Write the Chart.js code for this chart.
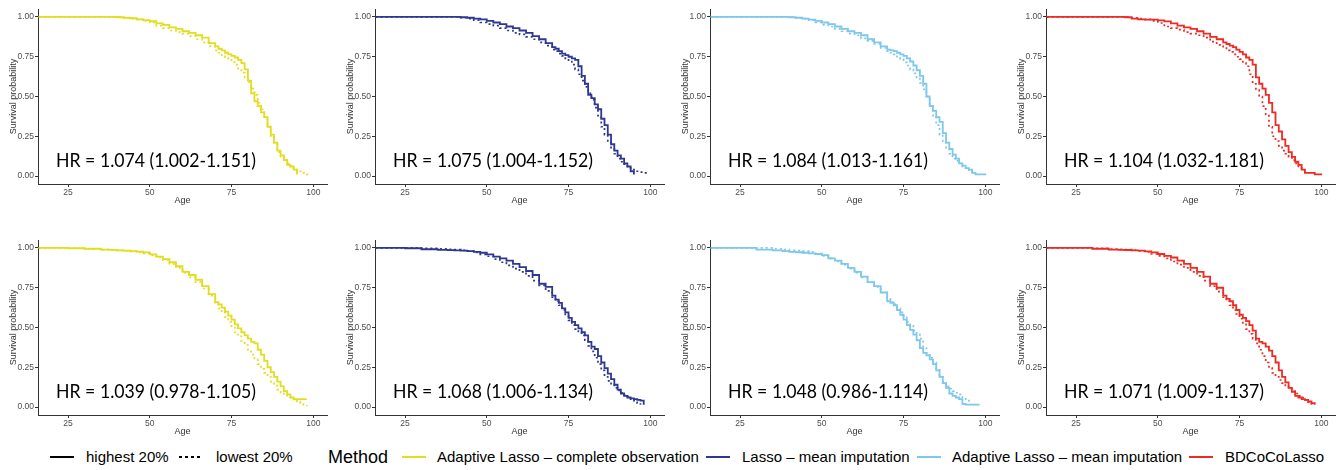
<!DOCTYPE html>
<html>
<head>
<meta charset="utf-8">
<script src="https://cdn.jsdelivr.net/npm/chart.js@4.4.0/dist/chart.umd.min.js"></script>
<style>
  html, body { margin: 0; padding: 0; background: #fff; }
  body { width: 1340px; height: 470px; position: relative; overflow: hidden;
         font-family: "Liberation Sans", Arial, sans-serif; }
  canvas.km { position: absolute; }
  .leg { position: absolute; top: 448px; height: 18px; line-height: 18px; font-size: 15px;
         color: #000; white-space: nowrap; }
  .leg.title { font-size: 18px; top: 446px; height: 22px; line-height: 22px; }
  .key { position: absolute; top: 452px; }
</style>
</head>
<body>
<div id="charts"></div>
<div id="legend"></div>
<script>
var ageGrid = [16, 25, 30, 35, 38, 40, 42, 44, 46, 48, 50, 52, 54, 56, 58, 60, 62, 64, 66, 68,
  70, 71, 72, 73, 74, 75, 76, 77, 78, 79, 80, 81, 82, 83, 84, 85, 86, 87, 88, 89,
  90, 91, 92, 93, 94, 95, 96, 97, 98, 99, 100];
var xTicks = [25, 50, 75, 100];
var yTicks = [0, 0.25, 0.5, 0.75, 1];

var methods = ['Adaptive Lasso \u2013 complete observation', 'Lasso \u2013 mean imputation',
  'Adaptive Lasso \u2013 mean imputation', 'BDCoCoLasso'];
var groups = ['highest 20%', 'lowest 20%'];

var hrTop = ['HR = 1.074 (1.002-1.151)', 'HR = 1.075 (1.004-1.152)',
  'HR = 1.084 (1.013-1.161)', 'HR = 1.104 (1.032-1.181)'];
var hrBottom = ['HR = 1.039 (0.978-1.105)', 'HR = 1.068 (1.006-1.134)',
  'HR = 1.048 (0.986-1.114)', 'HR = 1.071 (1.009-1.137)'];

// top row survival (highest / lowest 20%)
var alcoTopHigh = [1, 1, 1, 1, 1, 0.998, 0.995, 0.992, 0.985, 0.98,
  0.973, 0.96, 0.95, 0.935, 0.925, 0.91, 0.9, 0.885, 0.87, 0.835,
  0.815, 0.8, 0.79, 0.775, 0.765, 0.755, 0.745, 0.73, 0.71, 0.67,
  0.6, 0.52, 0.47, 0.44, 0.4, 0.37, 0.31, 0.26, 0.21, 0.16,
  0.13, 0.1, 0.07, 0.06, 0.04, 0.01, null, null, null, null, null];
var alcoTopLow = [1, 1, 1, 1, 1, 1, 0.995, 0.99, 0.985, 0.975,
  0.965, 0.945, 0.93, 0.915, 0.905, 0.895, 0.88, 0.86, 0.84, 0.815,
  0.79, 0.775, 0.76, 0.745, 0.73, 0.715, 0.7, 0.675, 0.65, 0.62,
  0.59, 0.55, 0.51, 0.46, 0.42, 0.37, 0.31, 0.25, 0.2, 0.15,
  0.12, 0.1, 0.08, 0.06, 0.05, 0.04, 0.03, 0.02, 0.01, 0.005, null];
var lassoTopHigh = [1, 1, 1, 1, 1, 1, 0.998, 0.995, 0.99, 0.985,
  0.975, 0.965, 0.955, 0.94, 0.93, 0.915, 0.9, 0.88, 0.86, 0.835,
  0.81, 0.8, 0.785, 0.77, 0.76, 0.75, 0.74, 0.73, 0.69, 0.63,
  0.58, 0.51, 0.49, 0.45, 0.42, 0.36, 0.32, 0.26, 0.2, 0.16,
  0.13, 0.11, 0.08, 0.06, 0.03, 0.01, null, null, null, null, null];
var lassoTopLow = [1, 1, 1, 1, 1, 1, 0.995, 0.99, 0.98, 0.965,
  0.955, 0.945, 0.93, 0.915, 0.9, 0.89, 0.875, 0.86, 0.84, 0.82,
  0.795, 0.785, 0.77, 0.755, 0.74, 0.72, 0.7, 0.67, 0.64, 0.6,
  0.56, 0.52, 0.48, 0.43, 0.38, 0.31, 0.26, 0.21, 0.17, 0.14,
  0.11, 0.09, 0.075, 0.06, 0.05, 0.04, 0.03, 0.025, 0.02, 0.01, null];
var almiTopHigh = [1, 1, 1, 1, 1, 0.998, 0.995, 0.99, 0.983, 0.975,
  0.965, 0.955, 0.94, 0.925, 0.91, 0.9, 0.885, 0.86, 0.84, 0.815,
  0.795, 0.79, 0.785, 0.775, 0.765, 0.755, 0.74, 0.72, 0.695, 0.665,
  0.63, 0.58, 0.5, 0.44, 0.41, 0.37, 0.34, 0.27, 0.21, 0.17,
  0.135, 0.11, 0.08, 0.065, 0.05, 0.04, 0.02, 0.01, 0.01, 0.01, 0.005];
var almiTopLow = [1, 1, 1, 1, 1, 1, 0.995, 0.99, 0.98, 0.965,
  0.95, 0.94, 0.925, 0.91, 0.895, 0.885, 0.865, 0.85, 0.83, 0.805,
  0.785, 0.775, 0.765, 0.75, 0.735, 0.715, 0.695, 0.67, 0.645, 0.62,
  0.585, 0.545, 0.5, 0.44, 0.38, 0.32, 0.26, 0.21, 0.17, 0.14,
  0.11, 0.095, 0.08, 0.06, 0.04, 0.03, 0.02, null, null, null, null];
var bdccTopHigh = [1, 1, 1, 1, 1, 0.998, 0.99, 0.985, 0.983, 0.983,
  0.978, 0.972, 0.96, 0.945, 0.935, 0.925, 0.91, 0.895, 0.875, 0.86,
  0.84, 0.83, 0.82, 0.81, 0.795, 0.78, 0.765, 0.745, 0.73, 0.7,
  0.62, 0.58, 0.55, 0.51, 0.46, 0.4, 0.32, 0.28, 0.23, 0.19,
  0.15, 0.12, 0.09, 0.07, 0.04, 0.02, 0.02, 0.02, 0.01, 0.01, 0.005];
var bdccTopLow = [1, 1, 1, 1, 1, 1, 0.995, 0.99, 0.985, 0.975,
  0.962, 0.94, 0.93, 0.92, 0.905, 0.895, 0.885, 0.87, 0.845, 0.825,
  0.805, 0.79, 0.78, 0.765, 0.75, 0.735, 0.71, 0.69, 0.64, 0.58,
  0.54, 0.5, 0.44, 0.38, 0.31, 0.25, 0.22, 0.19, 0.16, 0.14,
  0.12, 0.1, 0.08, 0.06, 0.04, null, null, null, null, null, null];

// bottom row survival
var alcoBotHigh = [1, 0.998, 0.995, 0.99, 0.988, 0.985, 0.983, 0.98, 0.977, 0.972,
  0.96, 0.945, 0.93, 0.91, 0.885, 0.85, 0.83, 0.8, 0.76, 0.71,
  0.66, 0.645, 0.625, 0.6, 0.575, 0.55, 0.52, 0.495, 0.47, 0.45,
  0.43, 0.41, 0.4, 0.36, 0.33, 0.29, 0.25, 0.22, 0.19, 0.16,
  0.13, 0.1, 0.08, 0.06, 0.05, 0.05, 0.05, 0.05, 0.05, null, null];
var alcoBotLow = [1, 0.998, 0.995, 0.99, 0.987, 0.985, 0.982, 0.978, 0.972, 0.965,
  0.955, 0.94, 0.925, 0.9, 0.875, 0.845, 0.815, 0.785, 0.745, 0.7,
  0.645, 0.62, 0.595, 0.565, 0.535, 0.5, 0.47, 0.445, 0.415, 0.39,
  0.36, 0.33, 0.3, 0.27, 0.24, 0.215, 0.19, 0.16, 0.135, 0.11,
  0.09, 0.075, 0.065, 0.055, 0.045, 0.035, 0.025, 0.015, 0.005, null, null];
var lassoBotHigh = [1, 0.998, 0.992, 0.988, 0.986, 0.985, 0.983, 0.98, 0.975, 0.97,
  0.96, 0.945, 0.935, 0.92, 0.9, 0.88, 0.855, 0.83, 0.775, 0.755,
  0.7, 0.675, 0.655, 0.62, 0.595, 0.56, 0.535, 0.515, 0.495, 0.47,
  0.45, 0.41, 0.38, 0.365, 0.32, 0.28, 0.245, 0.21, 0.175, 0.14,
  0.11, 0.085, 0.07, 0.06, 0.055, 0.05, 0.045, 0.04, 0.015, null, null];
var lassoBotLow = [1, 1, 0.998, 0.995, 0.992, 0.99, 0.985, 0.98, 0.972, 0.96,
  0.948, 0.93, 0.91, 0.89, 0.87, 0.85, 0.825, 0.795, 0.765, 0.73,
  0.69, 0.665, 0.64, 0.61, 0.575, 0.545, 0.515, 0.49, 0.47, 0.45,
  0.42, 0.385, 0.35, 0.31, 0.27, 0.23, 0.19, 0.165, 0.14, 0.12,
  0.105, 0.09, 0.075, 0.065, 0.05, 0.04, 0.025, 0.015, null, null, null];
var almiBotHigh = [1, 1, 0.99, 0.985, 0.98, 0.975, 0.973, 0.97, 0.966, 0.962,
  0.955, 0.935, 0.92, 0.9, 0.875, 0.85, 0.82, 0.785, 0.76, 0.72,
  0.665, 0.655, 0.64, 0.61, 0.58, 0.55, 0.515, 0.485, 0.455, 0.42,
  0.37, 0.34, 0.325, 0.3, 0.27, 0.23, 0.19, 0.15, 0.12, 0.085,
  0.07, 0.06, 0.05, 0.02, 0.015, 0.015, 0.015, 0.015, 0.01, null, null];
var almiBotLow = [1, 1, 1, 0.995, 0.99, 0.985, 0.983, 0.98, 0.975, 0.965,
  0.95, 0.935, 0.915, 0.895, 0.87, 0.845, 0.815, 0.785, 0.755, 0.72,
  0.68, 0.66, 0.645, 0.62, 0.595, 0.57, 0.535, 0.51, 0.48, 0.455,
  0.43, 0.38, 0.34, 0.31, 0.28, 0.24, 0.19, 0.16, 0.13, 0.115,
  0.1, 0.09, 0.08, 0.06, 0.05, 0.03, null, null, null, null, null];
var bdccBotHigh = [1, 1, 0.995, 0.99, 0.988, 0.987, 0.985, 0.983, 0.978, 0.972,
  0.962, 0.95, 0.94, 0.92, 0.9, 0.875, 0.85, 0.82, 0.775, 0.75,
  0.7, 0.68, 0.665, 0.64, 0.61, 0.58, 0.56, 0.54, 0.515, 0.48,
  0.43, 0.41, 0.4, 0.38, 0.355, 0.32, 0.28, 0.23, 0.19, 0.155,
  0.12, 0.095, 0.07, 0.06, 0.05, 0.045, 0.035, 0.025, 0.015, null, null];
var bdccBotLow = [1, 1, 0.997, 0.993, 0.991, 0.99, 0.986, 0.982, 0.975, 0.962,
  0.95, 0.935, 0.915, 0.895, 0.875, 0.85, 0.825, 0.795, 0.76, 0.725,
  0.69, 0.665, 0.64, 0.61, 0.585, 0.555, 0.52, 0.49, 0.46, 0.43,
  0.4, 0.36, 0.32, 0.28, 0.245, 0.215, 0.19, 0.17, 0.15, 0.13,
  0.115, 0.1, 0.085, 0.07, 0.06, 0.045, 0.03, 0.015, null, null, null];

var colors = ['#E2DD1E', '#2E3890', '#7EC8EB', '#EE2A24'];

// panel layout: y-axis line x for each column, canvas top for each row
var axisX = [38, 375, 710, 1046];
var rowTop = [0, 231];
var panels = [
  [alcoTopHigh, alcoTopLow, 0, 0, hrTop[0]], [lassoTopHigh, lassoTopLow, 1, 0, hrTop[1]],
  [almiTopHigh, almiTopLow, 2, 0, hrTop[2]], [bdccTopHigh, bdccTopLow, 3, 0, hrTop[3]],
  [alcoBotHigh, alcoBotLow, 0, 1, hrBottom[0]], [lassoBotHigh, lassoBotLow, 1, 1, hrBottom[1]],
  [almiBotHigh, almiBotLow, 2, 1, hrBottom[2]], [bdccBotHigh, bdccBotLow, 3, 1, hrBottom[3]]
];

function toPoints(vals) {
  var pts = [];
  for (var i = 0; i < ageGrid.length; i++) {
    if (vals[i] !== null) pts.push({ x: ageGrid[i], y: vals[i] });
  }
  return pts;
}

//writes the HR annotation, squeezed like the original figure
var hrPlugin = {
  id: 'hrLabel',
  afterDraw: function(chart) {
    var ctx = chart.ctx;
    var txt = chart.options.plugins.hrLabel.text;
    ctx.save();
    ctx.font = '20px Lato, "Open Sans", sans-serif';
    ctx.fillStyle = '#000';
    ctx.textBaseline = 'middle';
    var w = ctx.measureText(txt).width;
    ctx.translate(chart.chartArea.left + 18, chart.scales.y.getPixelForValue(0) - 15);
    ctx.scale(200 / w, 1);
    ctx.fillText(txt, 0, 0);
    ctx.restore();
  }
};

var holder = document.getElementById('charts');
panels.forEach(function(p) {
  var cv = document.createElement('canvas');
  cv.className = 'km';
  cv.width = 331;
  cv.height = 210;
  cv.style.left = (axisX[p[2]] - 38) + 'px';
  cv.style.top = rowTop[p[3]] + 'px';
  holder.appendChild(cv);

  var tickFont = { family: '"Liberation Sans", Arial, sans-serif', size: 8.5 };
  var titleFont = { family: '"Liberation Sans", Arial, sans-serif', size: 9 };
  new Chart(cv.getContext('2d'), {
    type: 'line',
    data: {
      datasets: [{
        label: groups[0],
        data: toPoints(p[0]),
        borderColor: colors[p[2]],
        borderWidth: 1.8,
        stepped: true,
        pointRadius: 0,
        fill: false
      }, {
        label: groups[1],
        data: toPoints(p[1]),
        borderColor: colors[p[2]],
        borderWidth: 1.7,
        borderDash: [2, 3],
        stepped: true,
        pointRadius: 0,
        fill: false
      }]
    },
    options: {
      responsive: false,
      animation: false,
      layout: { padding: { top: 9, right: 4, left: 0, bottom: 0 } },
      plugins: {
        legend: { display: false },
        tooltip: { enabled: false },
        hrLabel: { text: p[4] }
      },
      scales: {
        x: {
          type: 'linear',
          min: 15.8,
          max: 104.2,
          afterBuildTicks: function(s) { s.ticks = xTicks.map(function(v) { return { value: v }; }); },
          afterFit: function(s) { s.height = 26; },
          ticks: { autoSkip: false, maxRotation: 0, padding: 1, color: '#4d4d4d', font: tickFont,
                   callback: function(v) { return v; } },
          grid: { display: true, drawOnChartArea: false, drawTicks: true, tickLength: 3, color: '#333' },
          border: { display: true, color: '#333', width: 1 },
          title: { display: true, text: 'Age', color: '#333', font: titleFont, padding: { top: 0, bottom: 4 } }
        },
        y: {
          min: -0.05,
          max: 1.05,
          afterBuildTicks: function(s) { s.ticks = yTicks.map(function(v) { return { value: v }; }); },
          afterFit: function(s) { s.width = 38; },
          ticks: { autoSkip: false, padding: 1, color: '#4d4d4d', font: tickFont,
                   callback: function(v) { return v.toFixed(2); } },
          grid: { display: true, drawOnChartArea: false, drawTicks: true, tickLength: 3, color: '#333' },
          border: { display: true, color: '#333', width: 1 },
          title: { display: true, text: 'Survival probability', color: '#333', font: titleFont,
                   padding: { top: 8, bottom: 0 } }
        }
      }
    },
    plugins: [hrPlugin]
  });
});

// legend row under the panels
var legend = document.getElementById('legend');
function addKey(left, color, dashed) {
  var svg = '<svg class="key" style="left:' + left + 'px" width="24" height="10">' +
    '<line x1="0" y1="5" x2="24" y2="5" stroke="' + color + '" stroke-width="2"' +
    (dashed ? ' stroke-dasharray="3,3"' : '') + '/></svg>';
  legend.insertAdjacentHTML('beforeend', svg);
}
function addText(left, txt, cls) {
  var d = document.createElement('div');
  d.className = 'leg' + (cls ? ' ' + cls : '');
  d.style.left = left + 'px';
  d.textContent = txt;
  legend.appendChild(d);
}
addKey(50, '#000', false);
addText(86, groups[0]);
addKey(179, '#000', true);
addText(216, groups[1]);
addText(328, 'Method', 'title');
var keyLefts = [402, 706, 917, 1189];
var textLefts = [437, 742, 952, 1225];
methods.forEach(function(m, i) {
  addKey(keyLefts[i], colors[i], false);
  addText(textLefts[i], m);
});
</script>
</body>
</html>
